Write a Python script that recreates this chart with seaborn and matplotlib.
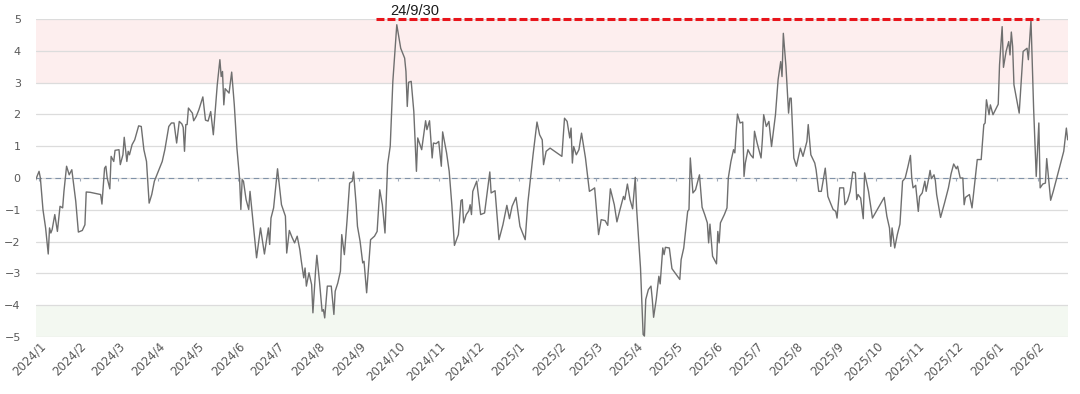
import numpy as np
import pandas as pd
import seaborn as sns
import matplotlib
matplotlib.use("Agg")
import matplotlib.pyplot as plt
import matplotlib.dates as mdates
from matplotlib.ticker import FuncFormatter

# ---- data ----
dates = [
    "2023-12-29", "2024-01-01", "2024-01-02", "2024-01-04", "2024-01-06", "2024-01-08", "2024-01-09",
    "2024-01-10", "2024-01-11", "2024-01-13", "2024-01-15", "2024-01-17", "2024-01-19", "2024-01-20",
    "2024-01-22", "2024-01-24", "2024-01-26", "2024-01-29", "2024-01-31", "2024-02-03", "2024-02-05",
    "2024-02-06", "2024-02-09", "2024-02-17", "2024-02-18", "2024-02-20", "2024-02-21", "2024-02-22",
    "2024-02-24", "2024-02-25", "2024-02-27", "2024-02-28", "2024-03-02", "2024-03-03", "2024-03-05",
    "2024-03-06", "2024-03-08", "2024-03-09", "2024-03-10", "2024-03-12", "2024-03-14", "2024-03-17",
    "2024-03-19", "2024-03-21", "2024-03-23", "2024-03-25", "2024-03-27", "2024-03-29", "2024-04-01",
    "2024-04-04", "2024-04-06", "2024-04-09", "2024-04-11", "2024-04-13", "2024-04-15", "2024-04-17",
    "2024-04-19", "2024-04-20", "2024-04-21", "2024-04-22", "2024-04-23", "2024-04-24", "2024-04-27",
    "2024-04-28", "2024-04-30", "2024-05-02", "2024-05-05", "2024-05-07", "2024-05-09", "2024-05-11",
    "2024-05-13", "2024-05-16", "2024-05-18", "2024-05-19", "2024-05-20", "2024-05-21", "2024-05-22",
    "2024-05-25", "2024-05-27", "2024-05-29", "2024-05-31", "2024-06-02", "2024-06-03", "2024-06-04",
    "2024-06-05", "2024-06-07", "2024-06-09", "2024-06-10", "2024-06-12", "2024-06-15", "2024-06-18",
    "2024-06-21", "2024-06-24", "2024-06-25", "2024-06-26", "2024-06-28", "2024-07-01", "2024-07-04",
    "2024-07-07", "2024-07-08", "2024-07-10", "2024-07-12", "2024-07-14", "2024-07-16", "2024-07-18",
    "2024-07-19", "2024-07-21", "2024-07-22", "2024-07-23", "2024-07-25", "2024-07-27", "2024-07-28",
    "2024-07-30", "2024-07-31", "2024-08-02", "2024-08-04", "2024-08-05", "2024-08-06", "2024-08-08",
    "2024-08-11", "2024-08-13", "2024-08-14", "2024-08-16", "2024-08-18", "2024-08-19", "2024-08-21",
    "2024-08-23", "2024-08-25", "2024-08-27", "2024-08-28", "2024-08-30", "2024-08-31", "2024-09-02",
    "2024-09-04", "2024-09-05", "2024-09-07", "2024-09-10", "2024-09-13", "2024-09-15", "2024-09-17",
    "2024-09-19", "2024-09-21", "2024-09-23", "2024-09-25", "2024-09-27", "2024-09-30", "2024-10-03",
    "2024-10-06", "2024-10-07", "2024-10-08", "2024-10-09", "2024-10-11", "2024-10-13", "2024-10-15",
    "2024-10-16", "2024-10-19", "2024-10-22", "2024-10-23", "2024-10-25", "2024-10-27", "2024-10-28",
    "2024-10-30", "2024-11-01", "2024-11-03", "2024-11-04", "2024-11-07", "2024-11-09", "2024-11-11",
    "2024-11-13", "2024-11-16", "2024-11-18", "2024-11-19", "2024-11-20", "2024-11-22", "2024-11-24",
    "2024-11-25", "2024-11-26", "2024-11-27", "2024-11-30", "2024-12-03", "2024-12-06", "2024-12-10",
    "2024-12-11", "2024-12-14", "2024-12-17", "2024-12-20", "2024-12-23", "2024-12-25", "2024-12-27",
    "2024-12-30", "2025-01-02", "2025-01-06", "2025-01-08", "2025-01-12", "2025-01-15", "2025-01-17",
    "2025-01-19", "2025-01-20", "2025-01-22", "2025-01-25", "2025-02-03", "2025-02-05", "2025-02-07",
    "2025-02-09", "2025-02-10", "2025-02-11", "2025-02-12", "2025-02-14", "2025-02-16", "2025-02-18",
    "2025-02-21", "2025-02-24", "2025-02-26", "2025-02-28", "2025-03-03", "2025-03-05", "2025-03-08",
    "2025-03-10", "2025-03-12", "2025-03-15", "2025-03-17", "2025-03-19", "2025-03-22", "2025-03-23",
    "2025-03-25", "2025-03-27", "2025-03-29", "2025-03-31", "2025-04-01", "2025-04-04", "2025-04-06",
    "2025-04-07", "2025-04-08", "2025-04-10", "2025-04-12", "2025-04-13", "2025-04-14", "2025-04-16",
    "2025-04-18", "2025-04-19", "2025-04-21", "2025-04-22", "2025-04-23", "2025-04-26", "2025-04-28",
    "2025-05-04", "2025-05-05", "2025-05-07", "2025-05-10", "2025-05-11", "2025-05-12", "2025-05-14",
    "2025-05-16", "2025-05-19", "2025-05-21", "2025-05-23", "2025-05-25", "2025-05-26", "2025-05-27",
    "2025-05-29", "2025-06-01", "2025-06-02", "2025-06-03", "2025-06-04", "2025-06-07", "2025-06-09",
    "2025-06-10", "2025-06-12", "2025-06-14", "2025-06-15", "2025-06-16", "2025-06-17", "2025-06-19",
    "2025-06-21", "2025-06-22", "2025-06-23", "2025-06-25", "2025-06-27", "2025-06-29", "2025-06-30",
    "2025-07-02", "2025-07-05", "2025-07-06", "2025-07-07", "2025-07-09", "2025-07-11", "2025-07-13",
    "2025-07-16", "2025-07-18", "2025-07-20", "2025-07-21", "2025-07-22", "2025-07-24", "2025-07-26",
    "2025-07-27", "2025-07-28", "2025-07-30", "2025-08-01", "2025-08-04", "2025-08-06", "2025-08-09",
    "2025-08-10", "2025-08-12", "2025-08-15", "2025-08-16", "2025-08-18", "2025-08-20", "2025-08-23",
    "2025-08-25", "2025-08-27", "2025-08-29", "2025-08-31", "2025-09-01", "2025-09-03", "2025-09-06",
    "2025-09-07", "2025-09-09", "2025-09-11", "2025-09-13", "2025-09-15", "2025-09-16", "2025-09-17",
    "2025-09-19", "2025-09-21", "2025-09-22", "2025-09-25", "2025-09-28", "2025-10-07", "2025-10-09",
    "2025-10-11", "2025-10-12", "2025-10-13", "2025-10-15", "2025-10-17", "2025-10-19", "2025-10-21",
    "2025-10-23", "2025-10-25", "2025-10-27", "2025-10-28", "2025-10-29", "2025-10-31", "2025-11-02",
    "2025-11-03", "2025-11-05", "2025-11-07", "2025-11-08", "2025-11-10", "2025-11-11", "2025-11-12",
    "2025-11-14", "2025-11-15", "2025-11-16", "2025-11-19", "2025-11-22", "2025-11-25", "2025-11-27",
    "2025-11-29", "2025-12-01", "2025-12-02", "2025-12-04", "2025-12-06", "2025-12-07", "2025-12-08",
    "2025-12-11", "2025-12-13", "2025-12-17", "2025-12-20", "2025-12-22", "2025-12-23", "2025-12-24",
    "2025-12-26", "2025-12-27", "2025-12-29", "2026-01-02", "2026-01-03", "2026-01-05", "2026-01-06",
    "2026-01-08", "2026-01-10", "2026-01-11", "2026-01-12", "2026-01-13", "2026-01-14", "2026-01-18",
    "2026-01-21", "2026-01-24", "2026-01-25", "2026-01-27", "2026-01-29", "2026-01-31", "2026-02-02",
    "2026-02-03", "2026-02-05", "2026-02-07", "2026-02-08", "2026-02-11", "2026-02-13", "2026-02-21",
    "2026-02-23", "2026-02-24",
]
values = [
    -0.10, 0.21, 0.00, -1.00, -1.57, -2.39, -1.57,
    -1.73, -1.62, -1.15, -1.68, -0.89, -0.94, -0.42,
    0.37, 0.10, 0.26, -0.73, -1.70, -1.65, -1.47,
    -0.44, -0.45, -0.52, -0.82, 0.31, 0.37, 0.00,
    -0.34, 0.68, 0.52, 0.87, 0.89, 0.42, 0.73,
    1.28, 0.52, 0.84, 0.73, 1.05, 1.20, 1.64,
    1.62, 0.89, 0.52, -0.79, -0.52, -0.10, 0.21,
    0.52, 0.89, 1.62, 1.73, 1.73, 1.10, 1.78,
    1.70, 1.59, 0.84, 1.68, 1.68, 2.20, 2.04,
    1.80, 1.94, 2.15, 2.55, 1.82, 1.79, 2.09,
    1.36, 2.93, 3.72, 3.19, 3.35, 2.30, 2.81,
    2.67, 3.33, 2.30, 0.94, 0.00, -0.99, -0.05,
    -0.10, -0.68, -0.99, -0.42, -1.26, -2.51, -1.57,
    -2.39, -1.57, -2.09, -1.26, -0.94, 0.29, -0.84,
    -1.20, -2.36, -1.65, -1.86, -2.04, -1.83, -2.25,
    -2.57, -3.14, -2.83, -3.40, -2.98, -3.35, -4.24,
    -2.93, -2.43, -3.25, -4.19, -4.14, -4.40, -3.40,
    -3.40, -4.29, -3.56, -3.30, -2.93, -1.78, -2.41,
    -1.36, -0.16, -0.10, 0.19, -0.84, -1.52, -1.99,
    -2.67, -2.62, -3.61, -1.94, -1.83, -1.68, -0.37,
    -0.84, -1.73, 0.42, 1.00, 3.04, 4.82, 4.08,
    3.77, 3.35, 2.25, 3.01, 3.04, 2.09, 0.21,
    1.26, 0.89, 1.80, 1.52, 1.80, 0.63, 1.10,
    1.08, 1.15, 0.37, 1.45, 0.79, 0.21, -0.84,
    -2.12, -1.78, -0.71, -0.68, -1.41, -1.15, -1.03,
    -0.84, -1.15, -0.42, -0.10, -1.15, -1.10, 0.19,
    -0.47, -0.40, -1.94, -1.47, -0.86, -1.28, -0.89,
    -0.61, -1.52, -1.94, -0.79, 0.73, 1.76, 1.36,
    1.20, 0.42, 0.84, 0.94, 0.68, 1.88, 1.78,
    1.26, 1.57, 0.47, 0.99, 0.73, 0.89, 1.41,
    0.63, -0.42, -0.37, -0.31, -1.78, -1.31, -1.34,
    -1.49, -0.34, -0.84, -1.38, -1.05, -0.58, -0.68,
    -0.19, -0.68, -0.97, 0.02, -0.94, -2.83, -4.92,
    -4.97, -3.82, -3.51, -3.40, -3.82, -4.38, -3.82,
    -3.09, -3.33, -2.20, -2.41, -2.18, -2.20, -2.85,
    -3.19, -2.57, -2.20, -1.05, -0.99, 0.63, -0.47,
    -0.37, 0.10, -0.92, -1.15, -1.41, -2.04, -1.45,
    -2.46, -2.70, -1.68, -2.04, -1.41, -1.15, -0.94,
    0.00, 0.52, 0.89, 0.79, 1.47, 2.01, 1.73,
    1.76, 0.05, 0.47, 0.89, 0.73, 0.63, 1.47,
    1.10, 0.63, 1.20, 1.99, 1.62, 1.78, 0.99,
    1.99, 3.09, 3.66, 3.19, 4.55, 3.51, 2.04,
    2.51, 2.51, 0.63, 0.37, 0.94, 0.68, 1.15,
    1.68, 0.73, 0.47, 0.26, -0.42, -0.42, 0.31,
    -0.58, -0.79, -0.99, -1.05, -1.26, -0.31, -0.31,
    -0.84, -0.71, -0.42, 0.19, 0.16, -0.68, -0.52,
    -0.63, -1.28, 0.16, -0.42, -1.26, -0.61, -1.20,
    -1.57, -2.15, -1.57, -2.20, -1.78, -1.45, -0.10,
    0.00, 0.34, 0.71, 0.00, -0.31, -0.23, -1.05,
    -0.58, -0.47, -0.10, -0.42, 0.00, 0.24, -0.02,
    0.10, -0.08, -0.52, -1.24, -0.79, -0.31, 0.13,
    0.44, 0.29, 0.37, 0.00, 0.00, -0.84, -0.61,
    -0.52, -0.94, 0.58, 0.58, 1.68, 1.73, 2.46,
    1.99, 2.30, 1.99, 2.32, 3.56, 4.76, 3.48,
    3.98, 4.29, 3.87, 4.59, 4.14, 2.93, 2.04,
    3.98, 4.08, 3.72, 4.97, 2.20, 0.05, 1.73,
    -0.31, -0.19, -0.16, 0.61, -0.70, -0.42, 0.84,
    1.57, 1.20,
]

hot_band = [3, 5]
cold_band = [-5, -4]
peak_level = 5
peak_span = ["2024-09-14", "2026-02-02"]
peak_label = "24/9/30"
peak_label_date = "2024-09-25"
y_ticks = list(range(-5, 6))

df = pd.DataFrame({"date": pd.to_datetime(dates), "value": values})

sns.set_style("white")
plt.rcParams["font.family"] = ["DejaVu Sans"]

fig = plt.figure(figsize=(10.8, 3.94), dpi=100)
ax = fig.add_axes([36 / 1080, 1 - 337 / 394, (1068 - 36) / 1080, (337 - 19) / 394])

# shaded zones
ax.axhspan(hot_band[0], hot_band[1], color="#fdeeee", lw=0, zorder=0)
ax.axhspan(cold_band[0], cold_band[1], color="#f3f8f1", lw=0, zorder=0)

ax.set_yticks(y_ticks)
ax.yaxis.grid(True, color="#dcdcdc", lw=0.9, zorder=1)
ax.xaxis.grid(False)
ax.set_axisbelow(True)

# zero line, with small month marks on it
ax.axhline(0, color="#8092a8", lw=0.8, ls=(0, (5, 3.5)), zorder=2)

sns.lineplot(data=df, x="date", y="value", ax=ax, color="#6f6f6f", lw=1.0, zorder=3)

ax.set_xlim(pd.Timestamp("2023-12-29 16:00"), pd.Timestamp("2026-02-24 06:00"))
ax.set_ylim(-5, 5)

ax.xaxis.set_major_locator(mdates.MonthLocator())
ax.xaxis.set_major_formatter(FuncFormatter(lambda v, p: "{}/{}".format(mdates.num2date(v).year,
                                                                       mdates.num2date(v).month)))
month_ticks = ax.get_xticks()
ax.vlines(month_ticks, -0.1, 0, colors="#a0aab8", lw=0.8, zorder=2)

# reference line at the 24/9/30 level
ax.hlines(peak_level, pd.Timestamp(peak_span[0]), pd.Timestamp(peak_span[1]),
          colors="#e8141b", lw=2.2, ls=(0, (2.6, 1.0)), zorder=4, clip_on=False)
ax.text(pd.Timestamp(peak_label_date), peak_level + 0.13, peak_label, fontsize=10.5,
        family=["Liberation Sans", "DejaVu Sans"], color="#1a1a1a", va="baseline", ha="left",
        clip_on=False)

ax.tick_params(axis="x", length=0, pad=2, labelsize=8.5, colors="#595959")
ax.tick_params(axis="y", length=0, pad=11, labelsize=8, colors="#595959")
plt.setp(ax.get_xticklabels(), rotation=45, ha="right", va="top", rotation_mode="anchor")

ax.set_xlabel("")
ax.set_ylabel("")
sns.despine(ax=ax, left=True, bottom=True)

fig.savefig("out.png", dpi=100)
